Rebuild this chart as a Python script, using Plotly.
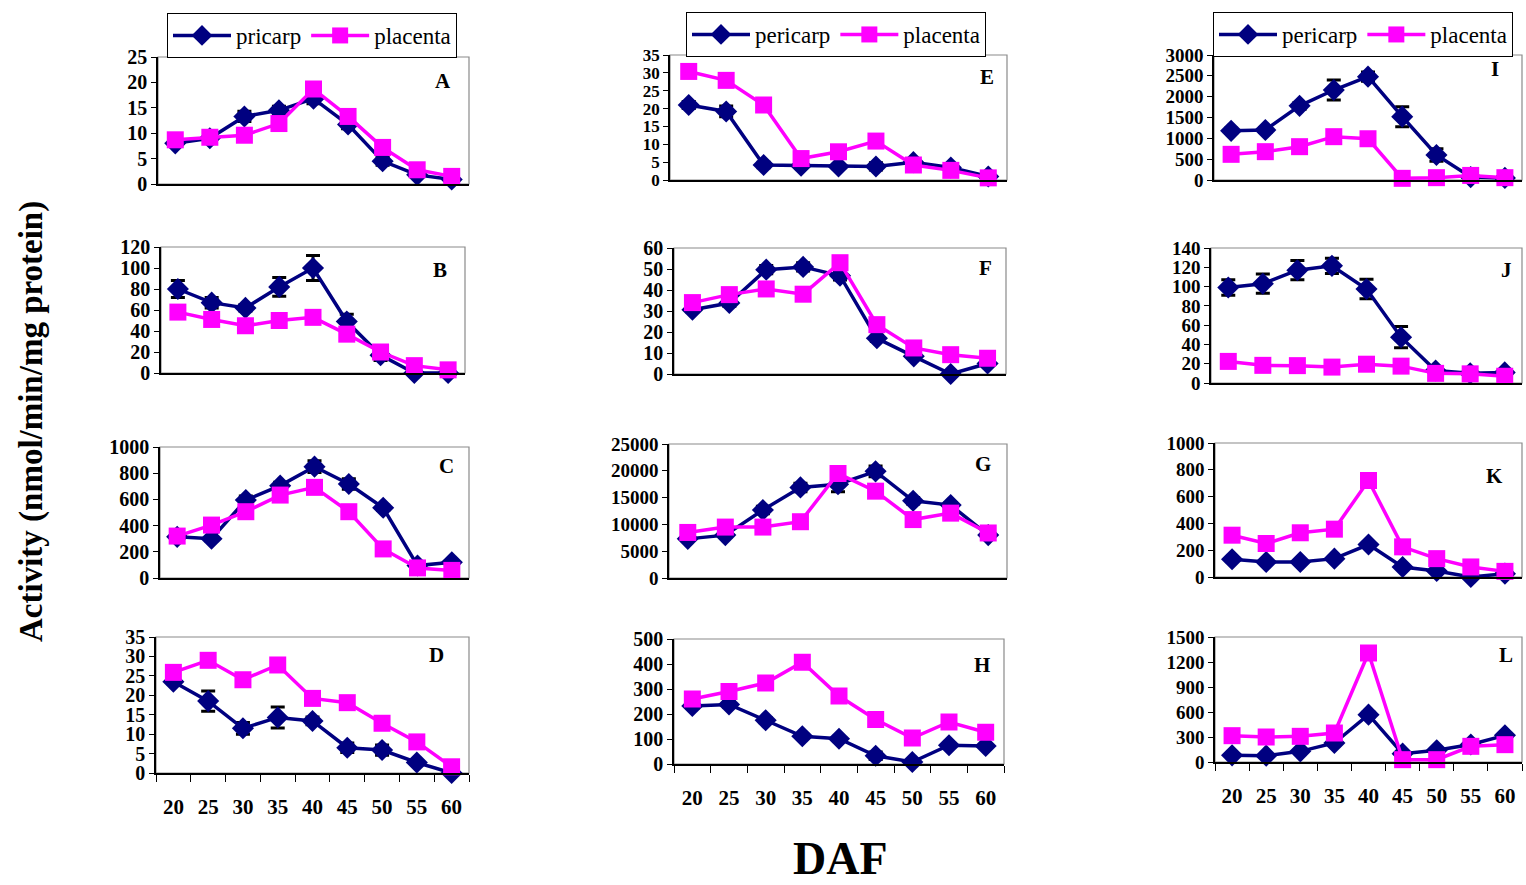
import plotly.graph_objects as go

W, H = 1526, 885

daf = ["20", "25", "30", "35", "40", "45", "50", "55", "60"]

# Panel values (pericarp, placenta, pericarp error)
A_peri = [8.0, 9.0, 13.3, 14.5, 16.8, 11.7, 4.5, 1.8, 0.9]
A_plac = [8.7, 9.2, 9.6, 11.9, 18.7, 13.3, 7.2, 2.8, 1.5]
A_err = [0.5, 0.5, 1.0, 0.8, 1.0, 0.8, 0.8, 0.3, 0.2]

B_peri = [80, 67, 62, 82, 100, 49, 17, 0, 0]
B_plac = [58, 51, 45, 50, 53, 37, 20, 7, 3]
B_err = [8, 5, 3, 9, 12, 7, 5, 1, 1]

C_peri = [314, 300, 595, 705, 850, 718, 536, 95, 120]
C_plac = [320, 404, 506, 633, 692, 506, 222, 77, 58]
C_err = [15, 15, 30, 25, 45, 40, 20, 10, 10]

D_peri = [23.5, 18.5, 11.5, 14.3, 13.4, 6.5, 5.9, 2.7, 0.0]
D_plac = [25.9, 29.0, 24.0, 27.8, 19.2, 18.1, 12.8, 8.0, 1.6]
D_err = [0.5, 2.6, 1.5, 2.7, 1.0, 1.2, 1.3, 0.4, 0.2]

E_peri = [21.0, 19.2, 4.2, 4.0, 3.8, 3.8, 5.0, 3.5, 1.0]
E_plac = [30.4, 27.9, 21.0, 6.0, 7.9, 10.9, 4.2, 2.7, 0.6]
E_err = [1.0, 1.5, 0.8, 0.7, 0.5, 1.0, 0.5, 0.3, 0.2]

F_peri = [30.6, 33.8, 49.7, 51.0, 46.8, 17.0, 8.4, 0.0, 5.0]
F_plac = [34.0, 37.8, 40.5, 38.0, 53.0, 23.5, 12.4, 9.2, 7.5]
F_err = [1.0, 1.5, 2.0, 2.0, 2.0, 1.5, 1.0, 0.5, 0.5]

G_peri = [7300, 8000, 12700, 16900, 17500, 19900, 14400, 13600, 8000]
G_plac = [8500, 9500, 9500, 10500, 19500, 16200, 10900, 12100, 8400]
G_err = [300, 400, 700, 800, 1400, 1000, 600, 500, 300]

H_peri = [232, 238, 175, 111, 101, 33, 8, 75, 72]
H_plac = [260, 290, 324, 407, 272, 178, 104, 168, 127]
H_err = [10, 10, 10, 8, 8, 15, 5, 5, 5]

I_peri = [1180, 1200, 1780, 2160, 2480, 1520, 600, 70, 50]
I_plac = [616, 680, 800, 1040, 990, 40, 56, 110, 56]
I_err = [60, 60, 80, 240, 110, 240, 150, 20, 20]

J_peri = [99, 103, 117, 121.5, 97.5, 47.5, 13, 10, 11]
J_plac = [22.4, 18.3, 18.0, 16.5, 19.5, 17.5, 10, 9.5, 7]
J_err = [8, 10, 10, 8, 10, 11, 2, 1, 1]

K_peri = [132, 112, 112, 137, 242, 75, 45, 0, 25]
K_plac = [312, 250, 330, 357, 720, 225, 137, 75, 42]
K_err = [5, 5, 5, 5, 15, 5, 5, 2, 2]

L_peri = [80, 76, 128, 228, 568, 100, 140, 210, 320]
L_plac = [316, 300, 308, 348, 1308, 28, 28, 188, 208]
L_err = [10, 10, 10, 10, 30, 10, 10, 10, 10]

panels = [
    # letter, peri, plac, err, ymax, dtick, (x0,x1,y0,y1) px, column, letter pos px, tick font
    ("A", A_peri, A_plac, A_err, 25, 5, (158, 469, 57, 184), 1, (443, 81), 20),
    ("B", B_peri, B_plac, B_err, 120, 20, (161, 465, 247, 373), 1, (440, 270), 20),
    ("C", C_peri, C_plac, C_err, 1000, 200, (160, 469, 447, 578), 1, (446, 466), 20),
    ("D", D_peri, D_plac, D_err, 35, 5, (156, 469, 637, 773), 1, (436, 655), 20),
    ("E", E_peri, E_plac, E_err, 35, 5, (670, 1007, 55, 180), 2, (987, 77), 17),
    ("F", F_peri, F_plac, F_err, 60, 10, (674, 1006, 248, 374), 2, (985, 268), 20),
    ("G", G_peri, G_plac, G_err, 25000, 5000, (669, 1007, 444, 578), 2, (983, 464), 19),
    ("H", H_peri, H_plac, H_err, 500, 100, (674, 1004, 639, 764), 2, (982, 665), 20),
    ("I", I_peri, I_plac, I_err, 3000, 500, (1214, 1522, 55, 180), 3, (1495, 69), 19),
    ("J", J_peri, J_plac, J_err, 140, 20, (1211, 1522, 248, 383), 3, (1506, 270), 19),
    ("K", K_peri, K_plac, K_err, 1000, 200, (1215, 1522, 443, 577), 3, (1494, 476), 19),
    ("L", L_peri, L_plac, L_err, 1500, 300, (1215, 1522, 637, 762), 3, (1506, 655), 19),
]

peri_names = {1: "pricarp", 2: "pericarp", 3: "pericarp"}
legend_ids = {1: "legend", 2: "legend2", 3: "legend3"}

NAVY = "#000080"
MAG = "#FF00FF"
SERIF = "Liberation Serif"

fig = go.Figure()
layout = {}
shown = set()
bottom_letters = {"D", "H", "L"}

for i, (letter, peri, plac, err, ymax, dtick, (px0, px1, py0, py1), col, (lx, ly), tfs) in enumerate(panels):
    n = i + 1
    xa = "x" if n == 1 else f"x{n}"
    ya = "y" if n == 1 else f"y{n}"
    xkey = "xaxis" if n == 1 else f"xaxis{n}"
    ykey = "yaxis" if n == 1 else f"yaxis{n}"
    show = col not in shown
    shown.add(col)
    lg = legend_ids[col]

    fig.add_trace(go.Scatter(
        x=daf, y=peri, xaxis=xa, yaxis=ya, mode="lines+markers",
        name=peri_names[col], legend=lg, showlegend=show,
        line=dict(color=NAVY, width=3.5),
        marker=dict(symbol="diamond", size=17, color=NAVY),
        error_y=dict(type="data", array=err, visible=True, color="black",
                     thickness=3, width=7),
        cliponaxis=False,
    ))
    fig.add_trace(go.Scatter(
        x=daf, y=plac, xaxis=xa, yaxis=ya, mode="lines+markers",
        name="placenta", legend=lg, showlegend=show,
        line=dict(color=MAG, width=3.5),
        marker=dict(symbol="square", size=17, color=MAG),
        cliponaxis=False,
    ))

    is_bottom = letter in bottom_letters
    layout[xkey] = dict(
        domain=[px0 / W, px1 / W], anchor=ya, type="category", automargin=False,
        range=[-0.5, 8.5], showgrid=False, zeroline=False,
        showline=True, linecolor="black", linewidth=1.5,
        showticklabels=is_bottom, ticks="outside" if is_bottom else "",
        tickson="boundaries", ticklen=7, tickcolor="black", tickwidth=1,
        ticklabelstandoff=14,
        tickfont=dict(family=SERIF, size=21, color="black", weight="bold"),
    )
    layout[ykey] = dict(
        domain=[1 - py1 / H, 1 - py0 / H], anchor=xa, automargin=False,
        range=[0, ymax], dtick=dtick, tick0=0, tickformat="d",
        showgrid=False, zeroline=False,
        showline=True, linecolor="black", linewidth=1.5,
        ticks="outside", ticklen=5, tickcolor="black", tickwidth=1,
        tickfont=dict(family=SERIF, size=tfs, color="black", weight="bold"),
    )
    # plot-area frame (top / right in grey)
    fig.add_shape(type="rect", xref=f"{xa} domain", yref=f"{ya} domain",
                  x0=0, x1=1, y0=0, y1=1, line=dict(color="#8a8a8a", width=1.2),
                  layer="below")
    fig.add_annotation(text=f"<b>{letter}</b>", xref=f"{xa} domain", yref=f"{ya} domain",
                       x=(lx - px0) / (px1 - px0), y=1 - (ly - py0) / (py1 - py0),
                       xanchor="center", yanchor="middle", showarrow=False,
                       font=dict(family=SERIF, size=21, color="black"))

legend_common = dict(orientation="h", bgcolor="white", bordercolor="black", borderwidth=1,
                     font=dict(family=SERIF, size=23, color="black"),
                     xanchor="left", yanchor="top", itemwidth=58, tracegroupgap=0)
layout["legend"] = dict(legend_common, x=167 / W, y=1 - 13 / H)
layout["legend2"] = dict(legend_common, x=686 / W, y=1 - 12 / H)
layout["legend3"] = dict(legend_common, x=1213 / W, y=1 - 12 / H)

fig.update_layout(
    width=W, height=H, margin=dict(l=0, r=0, t=0, b=0, autoexpand=False),
    paper_bgcolor="white", plot_bgcolor="white",
    font=dict(family=SERIF, color="black"),
    **layout,
)

fig.add_annotation(text="<b>Activity (nmol/min/mg protein)</b>", xref="paper", yref="paper",
                   x=32 / W, y=1 - 422 / H, xanchor="center", yanchor="middle",
                   textangle=-90, showarrow=False,
                   font=dict(family=SERIF, size=33, color="black"))
fig.add_annotation(text="<b>DAF</b>", xref="paper", yref="paper",
                   x=840 / W, y=1 - 858 / H, xanchor="center", yanchor="middle",
                   showarrow=False,
                   font=dict(family=SERIF, size=46, color="black"))

fig.write_html("out.html")
